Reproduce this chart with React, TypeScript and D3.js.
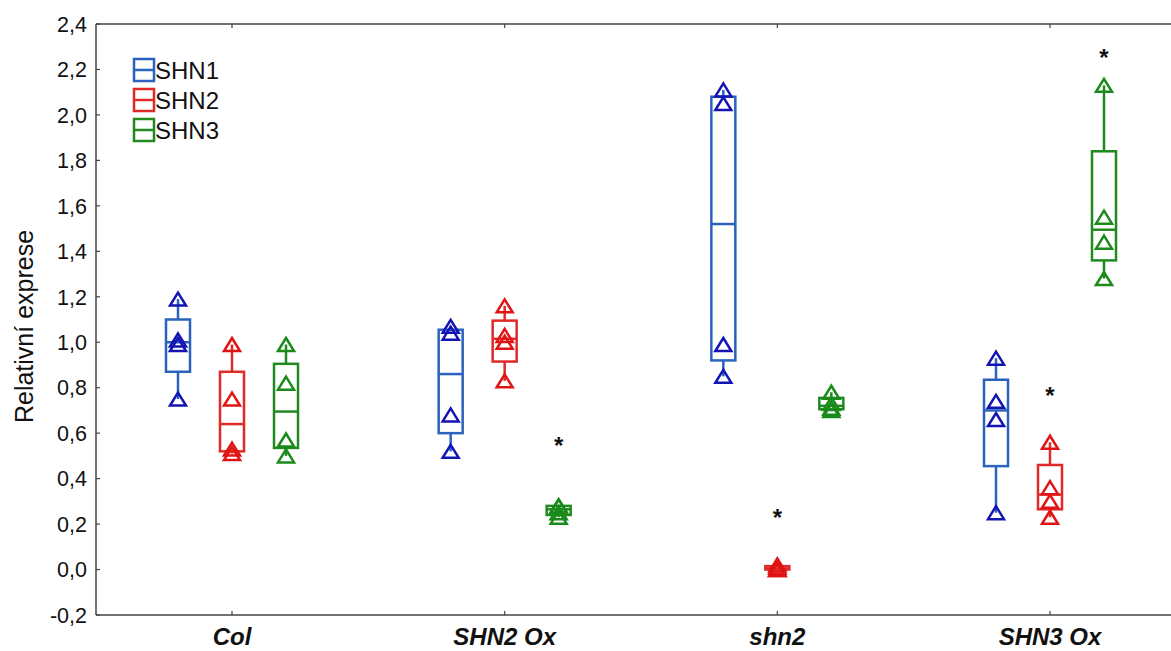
import React from "react";
import * as d3 from "d3";

const categories = ["Col", "SHN2 Ox", "shn2", "SHN3 Ox"];
const seriesNames = ["SHN1", "SHN2", "SHN3"];
const shn1Values = [[1.19, 1.01, 0.99, 0.75], [1.07, 1.04, 0.68, 0.52], [2.11, 2.05, 0.99, 0.85], [0.93, 0.74, 0.66, 0.25]];
const shn2Values = [[0.99, 0.75, 0.53, 0.51], [1.16, 1.03, 1.0, 0.83], [0.02, 0.01, 0.0, 0.0], [0.56, 0.36, 0.3, 0.23]];
const shn3Values = [[0.99, 0.82, 0.57, 0.5], [0.28, 0.28, 0.25, 0.23], [0.78, 0.73, 0.71, 0.7], [2.13, 1.55, 1.44, 1.28]];
const yTicks = [-0.2, 0, 0.2, 0.4, 0.6, 0.8, 1.0, 1.2, 1.4, 1.6, 1.8, 2.0, 2.2, 2.4];
// significance stars: [category index, series index, y value]
const starCats = [1, 2, 3, 3];
const starSeries = [2, 1, 1, 2];
const starValues = [0.56, 0.245, 0.78, 2.27];

const boxColors = ["#2a62bd", "#e02a2a", "#208a20"];
const markColors = ["#1414b4", "#e01414", "#1a8a1a"];
const allValues = [shn1Values, shn2Values, shn3Values];

const W = 1171, H = 651;
const L = 96, T = 24, B = 615;

function stats(v: number[]) {
  const s = [...v].sort((a, b) => a - b);
  return { min: s[0], q1: (s[0] + s[1]) / 2, med: (s[1] + s[2]) / 2, q3: (s[2] + s[3]) / 2, max: s[3] };
}

export default function App() {
  const y = d3.scaleLinear().domain([-0.2, 2.4]).range([B, T]);
  const x = d3.scalePoint<string>().domain(categories).range([232, 1050]);
  const off = d3.scalePoint<string>().domain(seriesNames).range([-54, 54]);
  const fmt = (v: number) => d3.format(".1f")(v).replace(".", ",").replace("−", "-");
  const bw = 24;
  const tri = (cx: number, cy: number) => {
    const w = 8, h = 13;
    return `M${cx},${cy - h / 2} L${cx + w},${cy + h / 2} L${cx - w},${cy + h / 2} Z`;
  };
  const font = "Arial, 'Liberation Sans', sans-serif";
  return (
    <svg width={W} height={H} style={{ position: "absolute", left: 0, top: 0, background: "#fff" }} fontFamily={font}>
      {/* frame */}
      <line x1={L} x2={L} y1={T} y2={B} stroke="#444" strokeWidth={1.5} />
      <line x1={L} x2={W} y1={T} y2={T} stroke="#444" strokeWidth={1.5} />
      <line x1={L} x2={W} y1={B} y2={B} stroke="#444" strokeWidth={1.5} />
      {yTicks.map((t) => (
        <g key={t}>
          <line x1={L} x2={L + 4} y1={y(t)} y2={y(t)} stroke="#444" strokeWidth={1.2} />
          <text x={87} y={y(t)} dy="0.36em" textAnchor="end" fontSize={21.5} fill="#111">{fmt(t)}</text>
        </g>
      ))}
      {categories.map((c) => (
        <g key={c}>
          <line x1={x(c)} x2={x(c)} y1={B} y2={B - 4} stroke="#444" strokeWidth={1.2} />
          <line x1={x(c)} x2={x(c)} y1={T} y2={T + 4} stroke="#444" strokeWidth={1.2} />
          <text x={x(c)} y={645} textAnchor="middle" fontSize={24} fontWeight="bold" fontStyle="italic" fill="#111">{c}</text>
        </g>
      ))}
      <text transform={`translate(33,${(T + B) / 2 + 7}) rotate(-90)`} textAnchor="middle" fontSize={25} fill="#111">Relativní exprese</text>
      {/* boxes */}
      {allValues.map((vals, si) =>
        vals.map((pts, ci) => {
          const cx = (x(categories[ci]) as number) + (off(seriesNames[si]) as number);
          const s = stats(pts);
          return (
            <g key={`${si}-${ci}`}>
              <line x1={cx} x2={cx} y1={y(s.max)} y2={y(s.q3)} stroke={boxColors[si]} strokeWidth={2.5} />
              <line x1={cx} x2={cx} y1={y(s.q1)} y2={y(s.min)} stroke={boxColors[si]} strokeWidth={2.5} />
              <rect x={cx - bw / 2} y={y(s.q3)} width={bw} height={Math.max(0.5, y(s.q1) - y(s.q3))} fill="none" stroke={boxColors[si]} strokeWidth={2.5} />
              <line x1={cx - bw / 2} x2={cx + bw / 2} y1={y(s.med)} y2={y(s.med)} stroke={boxColors[si]} strokeWidth={2.5} />
              {pts.map((p, k) => (
                <path key={k} d={tri(cx, y(p))} fill="none" stroke={markColors[si]} strokeWidth={2.5} strokeLinejoin="miter" />
              ))}
            </g>
          );
        })
      )}
      {/* stars */}
      {starValues.map((v, i) => {
        const cx = (x(categories[starCats[i]]) as number) + (off(seriesNames[starSeries[i]]) as number);
        return (
          <text key={i} x={cx} y={y(v) + 12} textAnchor="middle" fontSize={24} fontWeight="bold" fill="#111">*</text>
        );
      })}
      {/* legend */}
      {seriesNames.map((n, i) => (
        <g key={n} transform={`translate(134,${59 + i * 30})`}>
          <rect x={0} y={0} width={20} height={22} fill="none" stroke={boxColors[i]} strokeWidth={2.5} />
          <line x1={0} x2={20} y1={11} y2={11} stroke={boxColors[i]} strokeWidth={2.5} />
          <text x={21} y={20} fontSize={24} fill="#111">{n}</text>
        </g>
      ))}
    </svg>
  );
}
